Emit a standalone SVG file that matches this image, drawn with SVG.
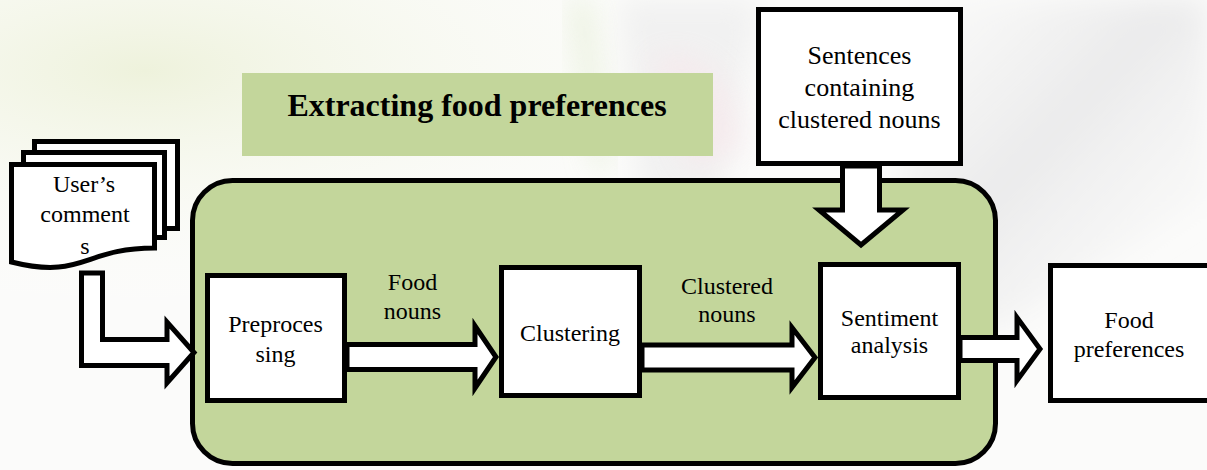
<svg xmlns="http://www.w3.org/2000/svg" width="1207" height="470" viewBox="0 0 1207 470">
  <defs>
    <style>
      .box { fill: #ffffff; stroke: #000000; stroke-width: 5; stroke-linejoin: miter; }
      .panel { fill: #c3d69b; stroke: #000000; stroke-width: 5; }
      .arrow { fill: #ffffff; stroke: #000000; stroke-width: 5; stroke-linejoin: miter; }
      text { font-family: 'Liberation Serif', 'DejaVu Serif', serif; fill: #000000; text-anchor: middle; }
      .lbl { font-size: 24px; }
      .big { font-size: 26px; }
      .title { font-size: 32px; font-weight: bold; }
    </style>
    <radialGradient id="tintLeft" cx="0.12" cy="0.15" r="0.55">
      <stop offset="0" stop-color="#eef2dc"/>
      <stop offset="1" stop-color="#ffffff" stop-opacity="0"/>
    </radialGradient>
    <linearGradient id="shadeRight" x1="0" y1="0" x2="1" y2="1">
      <stop offset="0" stop-color="#eeeeee" stop-opacity="0"/>
      <stop offset="0.45" stop-color="#e9e9ea" stop-opacity="0.9"/>
      <stop offset="1" stop-color="#f7f7f7" stop-opacity="0"/>
    </linearGradient>
    <filter id="soft" x="-20%" y="-20%" width="140%" height="140%">
      <feGaussianBlur stdDeviation="14"/>
    </filter>
  </defs>

  <!-- faded backdrop -->
  <rect x="0" y="0" width="1207" height="470" fill="#fbfbfa"/>
  <rect x="0" y="0" width="1207" height="470" fill="url(#tintLeft)"/>
  <path d="M 900 0 L 1207 0 L 1207 200 L 1000 330 L 900 300 Z" fill="url(#shadeRight)" filter="url(#soft)"/>
  <path d="M 620 0 L 760 0 L 720 200 L 640 200 Z" fill="#f1f1f1" filter="url(#soft)"/>
  <path d="M 570 0 L 590 0 L 610 170 L 595 170 Z" fill="#e2ecd2" opacity="0.7" filter="url(#soft)"/>
  <path d="M 650 60 C 700 40, 740 80, 740 150 L 690 170 C 670 120, 660 90, 650 60 Z" fill="#f6e9ec" opacity="0.8" filter="url(#soft)"/>

  <!-- title banner -->
  <g id="title">
    <rect x="242" y="73" width="471" height="83" fill="#c3d69b"/>
    <text class="title" x="477" y="116" font-family="Liberation Serif, serif">Extracting food preferences</text>
  </g>

  <!-- processing panel -->
  <g id="panel">
    <rect class="panel" x="192.5" y="180.5" width="803" height="283" rx="40" ry="40"/>
  </g>

  <!-- block arrows -->
  <g id="connectors">
    <path class="arrow" d="M 81.5 273 H 102.5 V 339.5 H 167 V 322 L 194 352.5 L 167 383 V 365.5 H 81.5 Z"/>
    <path class="arrow" d="M 347 344.5 H 475 V 326 L 496 357 L 475 388 V 369.5 H 347 Z"/>
    <path class="arrow" d="M 642 345 H 792 V 327.5 L 815 357.5 L 792 387.5 V 370 H 642 Z"/>
    <path class="arrow" d="M 960 337.5 H 1017 V 317.5 L 1040 349 L 1017 380.5 V 360.5 H 960 Z"/>
    <path class="arrow" d="M 842.5 166 V 210 H 819 L 861 245 L 903 210 H 879.5 V 166 Z"/>
  </g>

  <!-- stacked documents -->
  <g id="comments">
    <rect class="box" x="34.5" y="141.5" width="143" height="87"/>
    <rect class="box" x="23.5" y="152.5" width="141" height="85"/>
    <path class="box" d="M 11.5 164.5 H 154.5 V 248 C 83 248, 83 280, 11.5 262 Z"/>
    <text class="lbl" x="84" y="192" font-family="Liberation Serif, serif">User’s</text>
    <text class="lbl" x="85" y="222" font-family="Liberation Serif, serif">comment</text>
    <text class="lbl" x="85" y="254" font-family="Liberation Serif, serif">s</text>
  </g>

  <g id="preprocessing">
    <rect class="box" x="207.5" y="275.5" width="137" height="125"/>
    <text class="lbl" x="275.5" y="332" font-family="Liberation Serif, serif">Preproces</text>
    <text class="lbl" x="275.5" y="362" font-family="Liberation Serif, serif">sing</text>
  </g>

  <g id="label-food-nouns">
    <text class="lbl" x="412.5" y="290" font-family="Liberation Serif, serif">Food</text>
    <text class="lbl" x="412.5" y="319" font-family="Liberation Serif, serif">nouns</text>
  </g>

  <g id="clustering">
    <rect class="box" x="501.5" y="267.5" width="138" height="128"/>
    <text class="lbl" x="570" y="341" font-family="Liberation Serif, serif">Clustering</text>
  </g>

  <g id="label-clustered-nouns">
    <text class="lbl" x="727" y="294" font-family="Liberation Serif, serif">Clustered</text>
    <text class="lbl" x="727" y="322" font-family="Liberation Serif, serif">nouns</text>
  </g>

  <g id="sentences">
    <rect class="box" x="758.5" y="9.5" width="202" height="154"/>
    <text class="lbl big" x="859.5" y="64" font-family="Liberation Serif, serif">Sentences</text>
    <text class="lbl big" x="859.5" y="96" font-family="Liberation Serif, serif">containing</text>
    <text class="lbl big" x="859.5" y="128" font-family="Liberation Serif, serif">clustered nouns</text>
  </g>

  <g id="sentiment">
    <rect class="box" x="820.5" y="264.5" width="138" height="133"/>
    <text class="lbl" x="889.5" y="326" font-family="Liberation Serif, serif">Sentiment</text>
    <text class="lbl" x="889.5" y="353" font-family="Liberation Serif, serif">analysis</text>
  </g>

  <g id="food-preferences">
    <rect class="box" x="1050.5" y="265.5" width="170" height="135"/>
    <text class="lbl" x="1129" y="328" font-family="Liberation Serif, serif">Food</text>
    <text class="lbl" x="1129" y="357" font-family="Liberation Serif, serif">preferences</text>
  </g>
</svg>
